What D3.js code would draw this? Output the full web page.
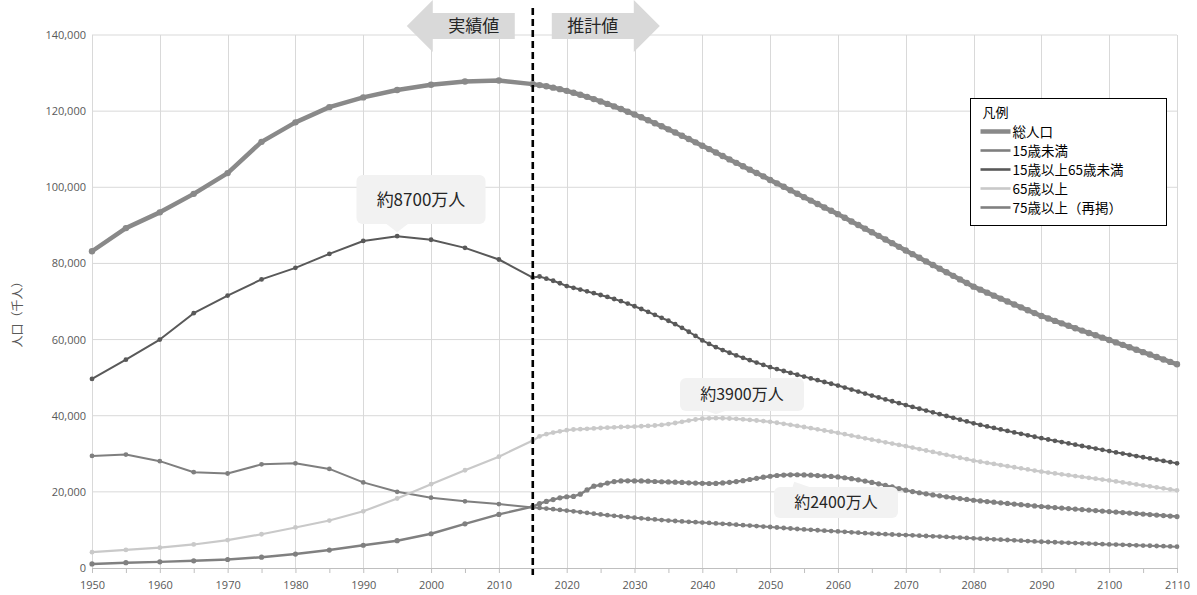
<!DOCTYPE html>
<html lang="ja">
<head>
<meta charset="utf-8">
<script src="https://cdn.jsdelivr.net/npm/d3@7"></script>
<style>
  html, body { margin: 0; padding: 0; background: #ffffff; }
  svg { display: block; font-family: "Open Sans", "Noto Sans CJK JP", sans-serif; }
  .jp { font-family: "Noto Sans CJK JP", "Noto Sans", sans-serif; }
</style>
</head>
<body>
<svg id="chart" width="1197" height="595"></svg>
<script>
// 実績値（5年ごと、千人）
const histYears = d3.range(1950, 2016, 5);
const histTotal = [83200, 89276, 93419, 98275, 103720, 111940, 117060, 121049, 123611, 125570, 126926, 127768, 128057, 127095];
const histU15   = [29428, 29798, 28067, 25166, 24823, 27221, 27507, 26033, 22486, 20014, 18472, 17521, 16803, 15887];
const hist1564  = [49658, 54730, 60002, 66928, 71566, 75807, 78835, 82506, 85904, 87165, 86220, 84092, 81032, 76289];
const hist65    = [4155, 4747, 5350, 6181, 7331, 8865, 10647, 12468, 14895, 18261, 22005, 25672, 29246, 33465];
const hist75    = [1069, 1388, 1621, 1894, 2237, 2841, 3660, 4712, 5973, 7170, 8999, 11602, 14072, 16126];

// 推計値（各年、千人）2016–2110
const projYears = d3.range(2016, 2111, 1);
const projTotal = [
  126838, 126532, 126177, 125773, 125325, 124836, 124310, 123751, 123161, 122544,
  121903, 121240, 120555, 119850, 119125, 118380, 117616, 116833, 116033, 115216,
  114383, 113535, 112674, 111801, 110919, 110028, 109131, 108229, 107324, 106421,
  105523, 104632, 103749, 102877, 101923, 101030, 100130, 99230, 98320, 97410,
  96500, 95600, 94700, 93820, 92950, 91990, 91030, 90080, 89130, 88200,
  87240, 86280, 85320, 84360, 83400, 82440, 81480, 80530, 79580, 78630,
  77680, 76740, 75800, 74850, 73900, 73110, 72320, 71540, 70760, 69990,
  69220, 68460, 67700, 66950, 66200, 65550, 64900, 64260, 63620, 62990,
  62360, 61740, 61120, 60510, 59900, 59260, 58620, 57980, 57340, 56700,
  56060, 55420, 54780, 54140, 53500
];
const projU15 = [
  15780, 15610, 15440, 15260, 15075, 14880, 14680, 14480, 14280, 14073,
  13880, 13700, 13530, 13370, 13212, 13050, 12900, 12750, 12600, 12457,
  12340, 12230, 12130, 12030, 11936, 11830, 11720, 11610, 11500, 11384,
  11260, 11140, 11020, 10890, 10767, 10640, 10510, 10380, 10250, 10123,
  10020, 9920, 9810, 9710, 9600, 9490, 9380, 9270, 9160, 9050,
  8960, 8880, 8800, 8720, 8650, 8570, 8490, 8410, 8330, 8250,
  8160, 8070, 7980, 7890, 7800, 7710, 7620, 7530, 7440, 7350,
  7260, 7170, 7080, 6990, 6900, 6830, 6760, 6690, 6620, 6550,
  6480, 6410, 6340, 6270, 6200, 6140, 6080, 6020, 5960, 5900,
  5840, 5780, 5720, 5660, 5600
];
const proj1564 = [
  76562, 76000, 75450, 74800, 74058, 73600, 73130, 72660, 72180, 71701,
  71200, 70660, 70090, 69450, 68754, 68030, 67280, 66500, 65720, 64942,
  64040, 63080, 62060, 60950, 59777, 58850, 58010, 57250, 56540, 55845,
  55210, 54580, 53960, 53350, 52750, 52240, 51740, 51250, 50760, 50276,
  49800, 49330, 48860, 48400, 47928, 47400, 46870, 46340, 45810, 45291,
  44790, 44290, 43800, 43300, 42800, 42310, 41830, 41350, 40880, 40410,
  39930, 39450, 38970, 38490, 38000, 37590, 37190, 36790, 36400, 36010,
  35620, 35240, 34860, 34480, 34100, 33750, 33410, 33070, 32730, 32390,
  32050, 31710, 31370, 31030, 30700, 30370, 30050, 29730, 29410, 29090,
  28770, 28450, 28130, 27810, 27500
];
const proj65 = [
  34591, 35152, 35575, 35889, 36192, 36380, 36470, 36555, 36658, 36771,
  36866, 36955, 37030, 37092, 37160, 37236, 37320, 37430, 37593, 37817,
  38088, 38400, 38720, 39000, 39206, 39318, 39352, 39330, 39270, 39192,
  39060, 38900, 38740, 38580, 38406, 38150, 37880, 37600, 37320, 37042,
  36740, 36430, 36120, 35810, 35500, 35140, 34780, 34420, 34060, 33700,
  33360, 33020, 32680, 32340, 32000, 31620, 31240, 30860, 30480, 30100,
  29720, 29340, 28960, 28580, 28200, 27910, 27620, 27330, 27040, 26750,
  26460, 26170, 25880, 25590, 25300, 25070, 24840, 24610, 24380, 24150,
  23920, 23690, 23460, 23230, 23000, 22740, 22480, 22220, 21960, 21700,
  21440, 21180, 20920, 20660, 20400
];
const proj75 = [
  16910, 17480, 17980, 18420, 18720, 18800, 19400, 20500, 21500, 21800,
  22300, 22700, 22880, 22900, 22884, 22860, 22800, 22720, 22660, 22597,
  22540, 22480, 22380, 22300, 22250, 22200, 22220, 22350, 22500, 22700,
  22950, 23250, 23550, 23850, 24100, 24300, 24420, 24480, 24500, 24454,
  24380, 24280, 24160, 24050, 23925, 23700, 23450, 23150, 22830, 22480,
  22100, 21700, 21300, 20880, 20450, 20080, 19760, 19470, 19200, 18950,
  18700, 18460, 18230, 18010, 17800, 17620, 17450, 17280, 17110, 16950,
  16790, 16630, 16470, 16310, 16150, 16010, 15870, 15730, 15600, 15470,
  15340, 15210, 15080, 14950, 14820, 14690, 14560, 14430, 14300, 14170,
  14040, 13910, 13780, 13650, 13520
];

const yTicks = [0, 20000, 40000, 60000, 80000, 100000, 120000, 140000];
const xTicks = d3.range(1950, 2111, 10);
const boundaryYear = 2015;

const seriesNames = ["総人口", "15歳未満", "15歳以上65歳未満", "65歳以上", "75歳以上（再掲）"];
const callouts = [
  { text: "約8700万人", year: 1995, value: 87165 },
  { text: "約3900万人", year: 2042, value: 39352 },
  { text: "約2400万人", year: 2054, value: 24500 }
];

// ---- drawing ----
const svg = d3.select("#chart");
const margin = { left: 92, right: 20, top: 35, bottom: 27 };
const W = 1197, H = 595;
const x = d3.scaleLinear().domain([1950, 2110]).range([margin.left, W - margin.right]);
const y = d3.scaleLinear().domain([0, 140000]).range([H - margin.bottom, margin.top]);

const gridColor = "#d9d9d9";
const textColor = "#595959";

// grid
const grid = svg.append("g");
grid.selectAll("line.h").data(yTicks.filter(d => d > 0)).join("line")
  .attr("x1", x(1950)).attr("x2", x(2110))
  .attr("y1", d => y(d)).attr("y2", d => y(d))
  .attr("stroke", gridColor).attr("stroke-width", 1);
grid.selectAll("line.v").data(xTicks).join("line")
  .attr("x1", d => Math.round(x(d)) + 0.5).attr("x2", d => Math.round(x(d)) + 0.5)
  .attr("y1", y(140000)).attr("y2", y(0))
  .attr("stroke", gridColor).attr("stroke-width", 1);

// y axis
const yAxis = svg.append("g").attr("transform", `translate(${margin.left - 6},0)`)
  .call(d3.axisLeft(y).tickValues(yTicks).tickSize(0).tickPadding(0).tickFormat(d3.format(",")));
yAxis.select(".domain").remove();
yAxis.selectAll("text").attr("fill", textColor).style("font-size", "11px")
  .style("font-family", "'Open Sans', sans-serif");

// x axis
const xAxis = svg.append("g").attr("transform", `translate(0,${y(0)})`)
  .call(d3.axisBottom(x).tickValues(d3.range(1950, 2111, 5)).tickSize(5).tickPadding(8)
    .tickFormat(d => d % 10 === 0 ? d : ""));
xAxis.select(".domain").attr("stroke", "#bfbfbf");
xAxis.selectAll(".tick line").attr("stroke", "#bfbfbf");
xAxis.selectAll("text").attr("fill", textColor).style("font-size", "11px")
  .style("font-family", "'Open Sans', sans-serif");

// y title
svg.append("text").attr("class", "jp")
  .attr("transform", `translate(22,${(y(0) + y(140000)) / 2 + 10}) rotate(-90)`)
  .attr("text-anchor", "middle").attr("fill", textColor).style("font-size", "12px")
  .text("人口（千人）");

// series
function combine(h, p) {
  return histYears.map((yr, i) => ({ year: yr, value: h[i] }))
    .concat(projYears.map((yr, i) => ({ year: yr, value: p[i] })));
}
const series = [
  { name: seriesNames[0], data: combine(histTotal, projTotal), color: "#898989", width: 4.5, r: 3.2 },
  { name: seriesNames[1], data: combine(histU15, projU15), color: "#7f7f7f", width: 2, r: 2.4 },
  { name: seriesNames[2], data: combine(hist1564, proj1564), color: "#595959", width: 2, r: 2.4 },
  { name: seriesNames[3], data: combine(hist65, proj65), color: "#c9c9c9", width: 2.2, r: 2.4 },
  { name: seriesNames[4], data: combine(hist75, proj75), color: "#808080", width: 2.4, r: 2.6 }
];

const line = d3.line().x(d => x(d.year)).y(d => y(d.value));
const lines = svg.append("g");
series.forEach(s => {
  const g = lines.append("g");
  g.append("path").datum(s.data).attr("d", line)
    .attr("fill", "none").attr("stroke", s.color).attr("stroke-width", s.width)
    .attr("stroke-linejoin", "round");
  g.selectAll("circle").data(s.data).join("circle")
    .attr("cx", d => x(d.year)).attr("cy", d => y(d.value)).attr("r", s.r)
    .attr("fill", s.color);
});

// boundary line between actual and projected values
svg.append("line")
  .attr("x1", x(boundaryYear)).attr("x2", x(boundaryYear))
  .attr("y1", 8).attr("y2", 575)
  .attr("stroke", "#000").attr("stroke-width", 2.6).attr("stroke-dasharray", "7,4");

// arrows
const arrowFill = "#d9d9d9";
const bx = x(boundaryYear);
function leftArrow(xr) {
  const body = 82, head = 26, yT = 13, yB = 39, cy = 26, hy0 = 0, hy1 = 52;
  const xl = xr - body;
  return `M${xr},${yT} L${xl},${yT} L${xl},${hy0} L${xl - head},${cy} L${xl},${hy1} L${xl},${yB} L${xr},${yB} Z`;
}
function rightArrow(xl) {
  const body = 82, head = 26, yT = 13, yB = 39, cy = 26, hy0 = 0, hy1 = 52;
  const xr = xl + body;
  return `M${xl},${yT} L${xr},${yT} L${xr},${hy0} L${xr + head},${cy} L${xr},${hy1} L${xr},${yB} L${xl},${yB} Z`;
}
svg.append("path").attr("d", leftArrow(bx - 18)).attr("fill", arrowFill);
svg.append("path").attr("d", rightArrow(bx + 19)).attr("fill", arrowFill);
svg.append("text").attr("class", "jp").attr("x", bx - 59).attr("y", 32)
  .attr("text-anchor", "middle").style("font-size", "17px").attr("fill", "#262626").text("実績値");
svg.append("text").attr("class", "jp").attr("x", bx + 60).attr("y", 32)
  .attr("text-anchor", "middle").style("font-size", "17px").attr("fill", "#262626").text("推計値");

// callouts
const calloutFill = "#f2f2f2";
function calloutDown(c, cx, boxY, w, h, fs) {
  const px = x(c.year), py = y(c.value) - 4;
  const g = svg.append("g");
  g.append("rect").attr("x", cx - w / 2).attr("y", boxY).attr("width", w).attr("height", h)
    .attr("rx", 6).attr("fill", calloutFill);
  g.append("path").attr("d", `M${px - 12},${boxY + h - 1} L${px},${py} L${px + 12},${boxY + h - 1} Z`)
    .attr("fill", calloutFill);
  g.append("text").attr("class", "jp").attr("x", cx).attr("y", boxY + h / 2 + fs * 0.36)
    .attr("text-anchor", "middle").style("font-size", fs + "px").attr("fill", "#262626").text(c.text);
}
function calloutUp(c, cx, boxY, w, h, fs) {
  const px = x(c.year) + 3, py = y(c.value) + 7;
  const g = svg.append("g");
  g.append("rect").attr("x", cx - w / 2).attr("y", boxY).attr("width", w).attr("height", h)
    .attr("rx", 6).attr("fill", calloutFill);
  g.append("path").attr("d", `M${px - 8},${boxY + 1} L${px - 6},${py} L${px + 12},${boxY + 1} Z`)
    .attr("fill", calloutFill);
  g.append("text").attr("class", "jp").attr("x", cx).attr("y", boxY + h / 2 + fs * 0.36)
    .attr("text-anchor", "middle").style("font-size", fs + "px").attr("fill", "#262626").text(c.text);
}
calloutDown(callouts[0], 421, 175, 129, 49, 17);
calloutDown(callouts[1], 742, 378, 124, 33, 16);
calloutUp(callouts[2], 836, 487, 124, 31, 16);

// legend
const lg = svg.append("g").attr("transform", "translate(970.5,98.5)");
lg.append("rect").attr("width", 196).attr("height", 127)
  .attr("fill", "#fff").attr("stroke", "#000").attr("stroke-width", 1);
lg.append("text").attr("class", "jp").attr("x", 12).attr("y", 18)
  .style("font-size", "13px").attr("fill", "#000").text("凡例");
series.forEach((s, i) => {
  const cy = 33 + i * 19;
  lg.append("line").attr("x1", 10).attr("x2", 40).attr("y1", cy).attr("y2", cy)
    .attr("stroke", s.color).attr("stroke-width", i === 0 ? 4.5 : 2.6);
  lg.append("text").attr("class", "jp").attr("x", 42).attr("y", cy + 5)
    .style("font-size", "13.5px").attr("fill", "#000").text(s.name);
});
</script>
</body>
</html>
